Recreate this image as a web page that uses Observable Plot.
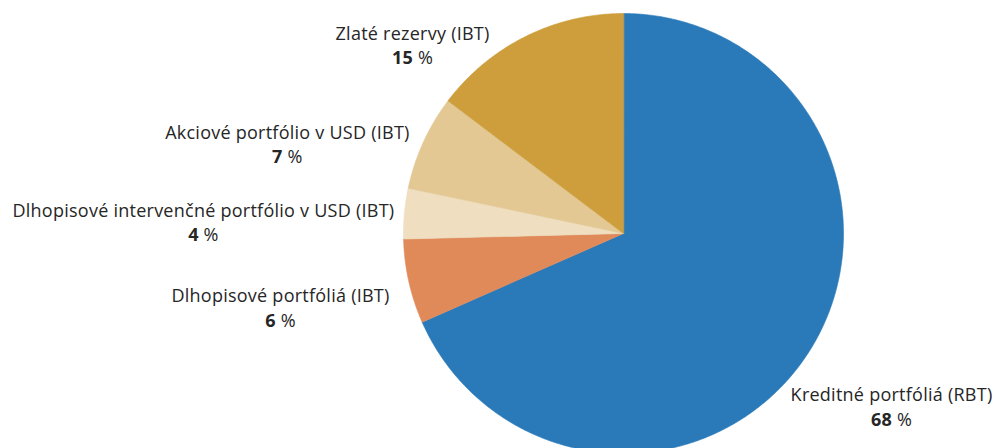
<!DOCTYPE html>
<html>
<head>
<meta charset="utf-8">
<script src="https://cdn.jsdelivr.net/npm/d3@7"></script>
<script src="https://cdn.jsdelivr.net/npm/@observablehq/plot@0.6"></script>
<style>
  html, body { margin: 0; padding: 0; background: #ffffff; }
  #chart { width: 998px; height: 448px; overflow: hidden; }
  #chart svg text { letter-spacing: 0.25px; }
</style>
</head>
<body>
<div id="chart"></div>
<script>
// ---- data ----
const categories = [
  "Kreditné portfóliá (RBT)",
  "Dlhopisové portfóliá (IBT)",
  "Dlhopisové intervenčné portfólio v USD (IBT)",
  "Akciové portfólio v USD (IBT)",
  "Zlaté rezervy (IBT)"
];
const values = [68.4, 6.2, 3.7, 7.0, 14.7];   // slice sizes
const shareLabels = [68, 6, 4, 7, 15];         // printed percentages

// ---- styles / layout (kept apart from data) ----
const colors = ["#2a7ab9", "#e08a5a", "#efdec0", "#e3c893", "#cd9e3b"];
const labelAngleShift = [-0.1, 0.26, -3.8, -9.7, -21.9]; // degrees from slice middle
const labelRadius = [1.453, 1.596, 1.91, 1.58, 1.283];   // in pie radii
const W = 998, H = 448, R = 220, CX = 623, CY = 233;

const table = categories.map((name, i) => ({name, value: values[i], share: shareLabels[i], i}));
const arcs = d3.pie().sort(null).value(d => d.value).startAngle(0).endAngle(2 * Math.PI)(table);

// polygon outline of every slice in unit-radius coordinates
const outline = [];
for (const a of arcs) {
  const steps = Math.max(2, Math.ceil((a.endAngle - a.startAngle) / (Math.PI / 360)));
  outline.push({name: a.data.name, x: 0, y: 0});
  for (let k = 0; k <= steps; k++) {
    const t = a.startAngle + (a.endAngle - a.startAngle) * k / steps;
    outline.push({name: a.data.name, x: Math.sin(t), y: Math.cos(t)});
  }
}

const labels = arcs.map((a, i) => {
  const mid = (a.startAngle + a.endAngle) / 2 + labelAngleShift[i] * Math.PI / 180;
  return {name: a.data.name, share: a.data.share, x: labelRadius[i] * Math.sin(mid), y: labelRadius[i] * Math.cos(mid)};
});

const font = "'Open Sans', 'Noto Sans', sans-serif";

const chart = Plot.plot({
  width: W,
  height: H,
  margin: 0,
  x: {domain: [-CX / R, (W - CX) / R], axis: null},
  y: {domain: [-(H - CY) / R, CY / R], axis: null},
  color: {domain: categories, range: colors},
  style: {fontFamily: font, background: "#ffffff"},
  marks: [
    Plot.line(outline, {x: "x", y: "y", z: "name", fill: "name", stroke: "name", strokeWidth: 0.6, curve: "linear-closed"}),
    Plot.text(labels, {x: "x", y: "y", text: "name", dy: -12, fontSize: 18, fill: "#262626", textAnchor: "middle"}),
    Plot.text(labels, {x: "x", y: "y", text: d => `${d.share} %`, dy: 12.5, fontSize: 18, fill: "#262626", textAnchor: "middle", className: "val"})
  ]
});

// bold number, regular percent sign
chart.querySelectorAll(".val text").forEach(t => {
  const s = t.textContent;
  const parts = s.split(" ");
  t.textContent = "";
  const ns = "http://www.w3.org/2000/svg";
  const a = document.createElementNS(ns, "tspan");
  a.setAttribute("font-weight", "700");
  a.textContent = parts[0];
  const b = document.createElementNS(ns, "tspan");
  b.textContent = " " + parts[1];
  t.appendChild(a);
  t.appendChild(b);
});

document.getElementById("chart").appendChild(chart);
</script>
</body>
</html>
